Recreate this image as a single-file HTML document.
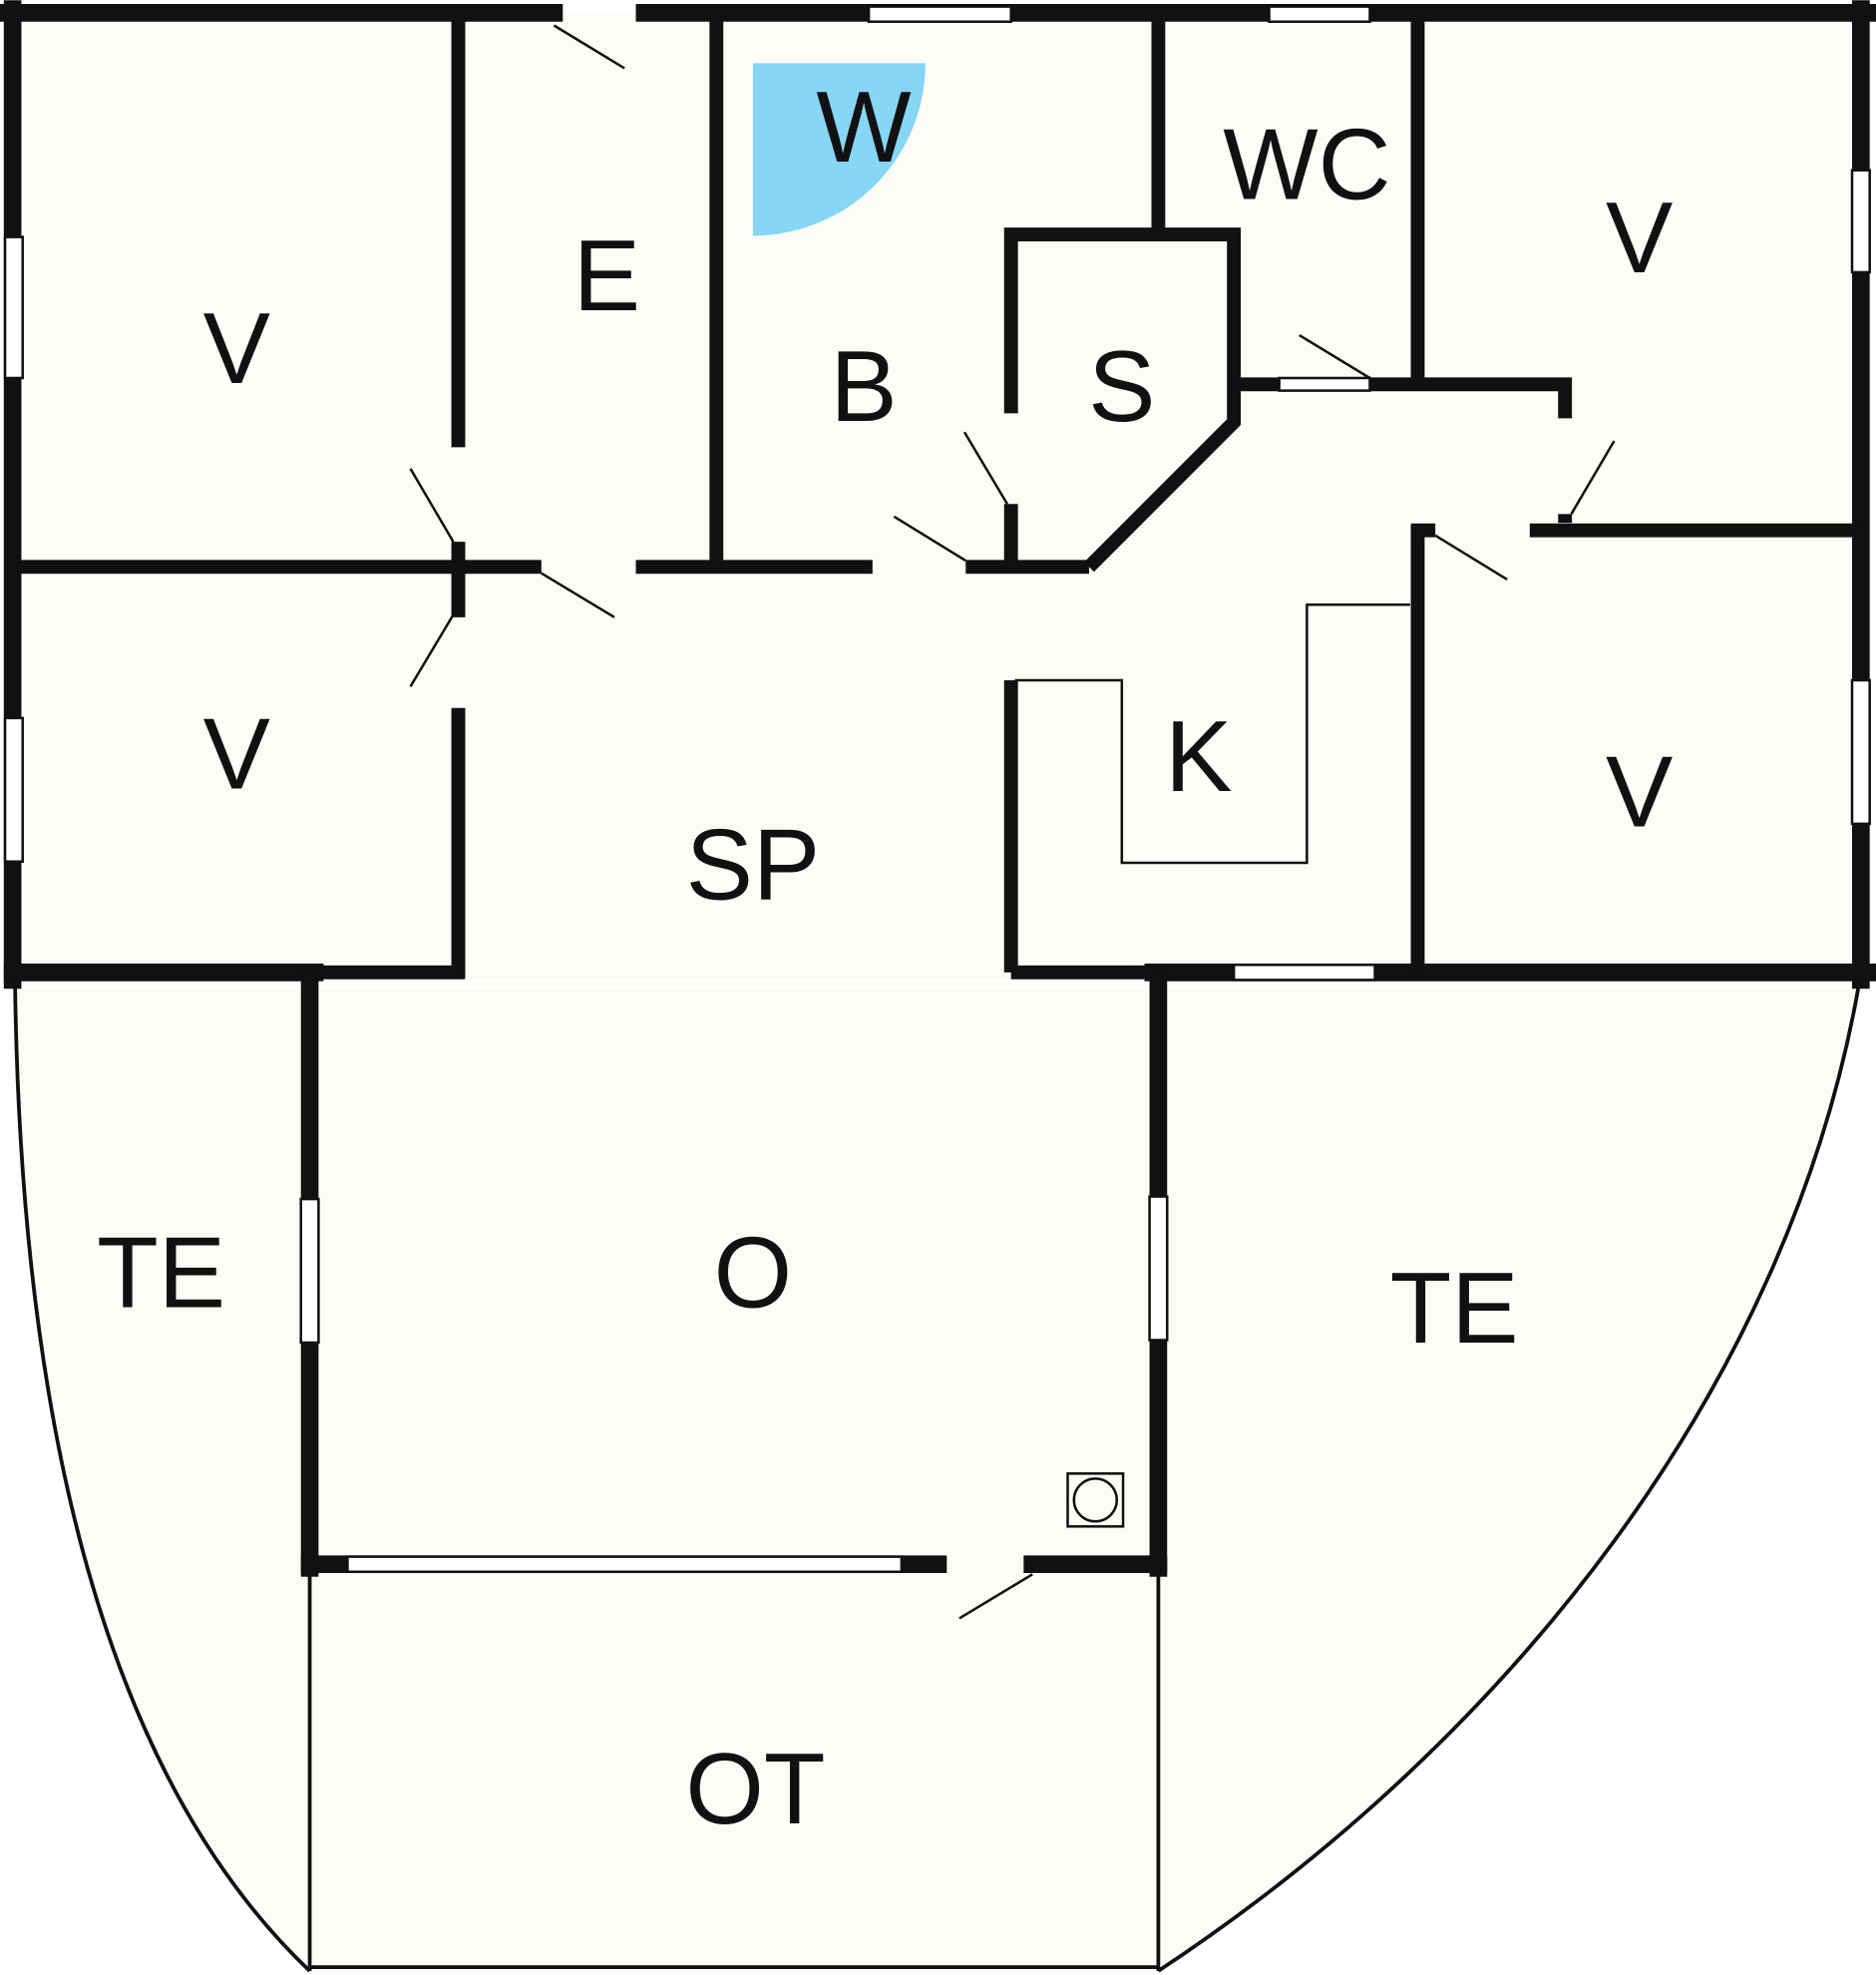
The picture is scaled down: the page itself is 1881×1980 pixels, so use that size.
<!DOCTYPE html>
<html><head><style>html,body{margin:0;padding:0;background:#fff}svg{display:block}</style></head>
<body>
<svg width="1881" height="1980" viewBox="0 0 1490 1568" xmlns="http://www.w3.org/2000/svg">
<rect width="1490" height="1568" fill="#fff"/>
<path d="M10 10 H1478 V778 H10 Z" fill="#fdfdf8"/>
<path d="M12 784 Q20 1350 246 1565 H920 C1200 1380 1420 1100 1476 784 Z" fill="#fdfdf8"/>
<g fill="none" stroke="#111" stroke-width="3">
<path d="M12 784 Q20 1350 246 1565"/>
<path d="M920 1565 C1200 1380 1420 1100 1476 784"/>
<line x1="246" y1="1250" x2="246" y2="1565"/>
<line x1="920" y1="1250" x2="920" y2="1565"/>
<line x1="246" y1="1562" x2="920" y2="1562"/>
</g>
<path d="M598 50 H735 A137 137 0 0 1 598 187 Z" fill="#85d6f7"/>
<g stroke="#111" stroke-width="14" fill="none" stroke-linecap="square">
<line x1="7" y1="10" x2="440" y2="10"/>
<line x1="512" y1="10" x2="1483" y2="10"/>
<line x1="10" y1="7" x2="10" y2="778"/>
<line x1="1478" y1="7" x2="1478" y2="778"/>
<line x1="10" y1="772" x2="250" y2="772"/>
<line x1="916" y1="772" x2="1483" y2="772"/>
<line x1="246" y1="778" x2="246" y2="1245"/>
<line x1="246" y1="1242" x2="745" y2="1242"/>
<line x1="820" y1="1242" x2="920" y2="1242"/>
<line x1="920" y1="778" x2="920" y2="1245"/>
</g>
<g stroke="#111" stroke-width="11" fill="none">
<line x1="364" y1="16" x2="364" y2="355"/>
<line x1="364" y1="430" x2="364" y2="490"/>
<line x1="364" y1="562" x2="364" y2="777"/>
<line x1="250" y1="772" x2="369" y2="772"/>
<line x1="16" y1="450" x2="430" y2="450"/>
<line x1="505" y1="450" x2="693" y2="450"/>
<line x1="767" y1="450" x2="865" y2="450"/>
<line x1="569" y1="16" x2="569" y2="450"/>
<line x1="920" y1="16" x2="920" y2="186"/>
<polyline points="803,328 803,186 980,186 980,335 865,450"/>
<line x1="803" y1="400" x2="803" y2="450"/>
<line x1="980" y1="305" x2="1016" y2="305"/>
<polyline points="1088,305 1243,305 1243,332"/>
<line x1="1243" y1="408" x2="1243" y2="415"/>
<line x1="1126" y1="16" x2="1126" y2="300"/>
<line x1="1121" y1="421" x2="1140" y2="421"/>
<line x1="1215" y1="421" x2="1478" y2="421"/>
<line x1="1126" y1="416" x2="1126" y2="772"/>
<line x1="803" y1="540" x2="803" y2="772"/>
<line x1="803" y1="772" x2="916" y2="772"/>
</g>
<g fill="#fff" stroke="#111" stroke-width="2">
<rect x="690" y="5" width="113" height="12"/>
<rect x="1008" y="5" width="80" height="12"/>
<rect x="4" y="188" width="14" height="112"/>
<rect x="4" y="570" width="14" height="114"/>
<rect x="1471" y="135" width="14" height="81"/>
<rect x="1471" y="540" width="14" height="114"/>
<rect x="980" y="766" width="112" height="12"/>
<rect x="239" y="952" width="14" height="114"/>
<rect x="913" y="950" width="14" height="114"/>
<rect x="276" y="1236" width="440" height="12"/>
<rect x="1016" y="300" width="72" height="10"/>
</g>
<g stroke="#111" stroke-width="2" fill="none">
<line x1="440" y1="20" x2="496" y2="54"/>
<line x1="326" y1="372" x2="360" y2="430"/>
<line x1="326" y1="545" x2="360" y2="488"/>
<line x1="430" y1="455" x2="488" y2="490"/>
<line x1="710" y1="410" x2="767" y2="445"/>
<line x1="766" y1="343" x2="800" y2="400"/>
<line x1="1032" y1="266" x2="1088" y2="300"/>
<line x1="1282" y1="350" x2="1248" y2="408"/>
<line x1="1140" y1="425" x2="1197" y2="460"/>
<line x1="762" y1="1285" x2="820" y2="1250"/>
<polyline points="806,540 891,540 891,685 1038,685 1038,480 1120,480"/>
<rect x="848" y="1170" width="44" height="42"/>
<circle cx="870" cy="1191" r="17"/>
</g>
<g font-family="Liberation Sans, sans-serif" font-size="80" fill="#111" text-anchor="middle">
<text x="188" y="304">V</text>
<text x="482" y="246">E</text>
<text x="686" y="128">W</text>
<text x="686" y="334">B</text>
<text x="891" y="334">S</text>
<text x="1038" y="158">WC</text>
<text x="1302" y="216">V</text>
<text x="188" y="626">V</text>
<text x="598" y="714">SP</text>
<text x="952" y="628">K</text>
<text x="1302" y="656">V</text>
<text x="128" y="1038">TE</text>
<text x="598" y="1038">O</text>
<text x="1155" y="1066">TE</text>
<text x="600" y="1448">OT</text>
</g>
</svg>
</body></html>
